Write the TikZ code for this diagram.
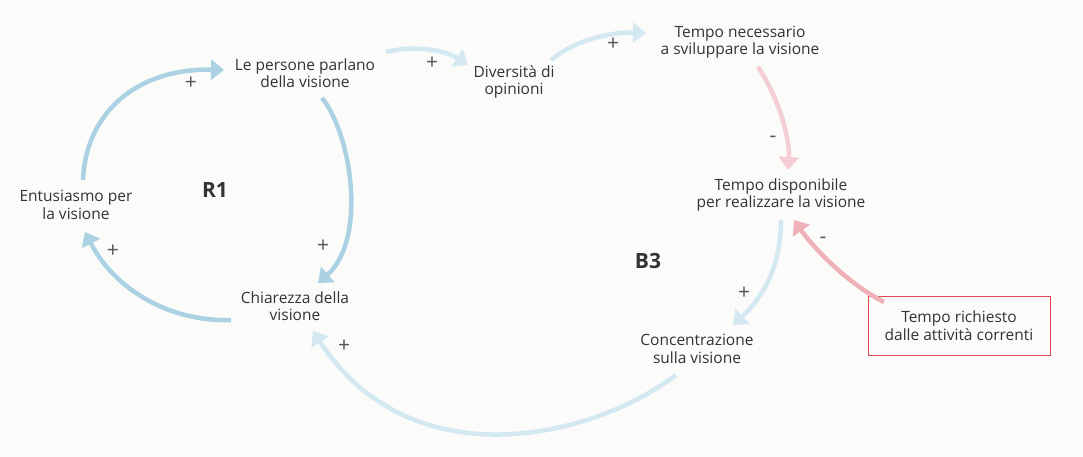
\documentclass[tikz,border=0pt]{standalone}
\usepackage{fontspec}
\setmainfont{Open Sans}
\usetikzlibrary{arrows.meta,calc}
\definecolor{bgc}{HTML}{FBFBFA}
\definecolor{txt}{HTML}{333333}
\definecolor{sgn}{HTML}{555555}
\definecolor{blueA}{HTML}{AAD2E3}
\definecolor{blueB}{HTML}{D3E8F1}
\definecolor{pinkA}{HTML}{F4CED2}
\definecolor{pinkB}{HTML}{EEB1B8}
\definecolor{boxred}{HTML}{D9474F}
\begin{document}
\begin{tikzpicture}[x=1pt,y=-1pt,
  var/.style={text=txt,font=\fontsize{15.5}{17.5}\selectfont,align=center,inner sep=0pt},
  sign/.style={text=sgn,font=\fontsize{21}{21}\selectfont,inner sep=0pt},
  loopname/.style={text=txt,font=\fontsize{21}{22}\selectfont\bfseries,inner sep=0pt},
  link/.style={line width=4.5pt,-{Triangle[length=13pt,width=20pt]}},
  rlink/.style={link,draw=blueA},
  blink/.style={link,draw=blueB},
  plink/.style={link,draw=pinkA},
  qlink/.style={link,draw=pinkB}]
\fill[bgc] (0,0) rectangle (1083,457);
\useasboundingbox (0,0) rectangle (1083,457);

\node[var] (lp) at (305,73) {Le persone parlano\\della visione};
\node[var] (en) at (76,205) {Entusiasmo per\\la visione};
\node[var] (ch) at (295,306) {Chiarezza della\\visione};
\node[var] (dv) at (514,82) {Diversità di\\opinioni};
\node[var] (tn) at (740,42) {Tempo necessario\\a sviluppare la visione};
\node[var] (td) at (781,195) {Tempo disponibile\\per realizzare la visione};
\node[var] (co) at (697,349) {Concentrazione\\sulla visione};
\node[var,draw=boxred,line width=1pt,minimum width=182pt,minimum height=59pt] (tr) at (959,325.5) {Tempo richiesto\\dalle attività correnti};

\node[loopname] (r1) at (215,190) {R1};
\node[loopname] (b3) at (648,261) {B3};

\draw[rlink] ($(en)+(7,-25)$) .. controls (86,110) and (140,68) .. ($(lp)+(-81,-3)$);
\draw[rlink] ($(lp)+(17,25)$) .. controls (352,135) and (367,240) .. ($(ch)+(23,-23)$);
\draw[rlink] ($(ch)+(-64,14)$) .. controls (170,322) and (115,290) .. ($(en)+(9,27)$);
\draw[blink] ($(lp)+(81,-21)$) .. controls (415,45) and (445,50) .. ($(dv)+(-46,-17)$);
\draw[blink] ($(dv)+(37,-22)$) .. controls (575,40) and (610,32) .. ($(tn)+(-94,-9)$);
\draw[plink] ($(tn)+(18,25)$) .. controls (780,100) and (790,140) .. ($(td)+(7,-25)$);
\draw[blink] ($(td)+(0,25)$) .. controls (781,270) and (760,300) .. ($(co)+(36,-24)$);
\draw[blink] ($(co)+(-21,26)$) .. controls (590,440) and (410,480) .. ($(ch)+(18,25)$);
\draw[qlink] ($(tr)+(-75,-23.5)$) .. controls (850,285) and (815,250) .. ($(td)+(13,25)$);

\node[sign] (s1) at (191,83) {+};
\node[sign] (s2) at (323,246) {+};
\node[sign] (s3) at (113,251) {+};
\node[sign] (s4) at (432,63) {+};
\node[sign] (s5) at (613,44) {+};
\node[sign] (s6) at (773,139) {-};
\node[sign] (s7) at (744,293) {+};
\node[sign] (s8) at (344,346) {+};
\node[sign] (s9) at (823,240) {-};
\end{tikzpicture}
\end{document}
